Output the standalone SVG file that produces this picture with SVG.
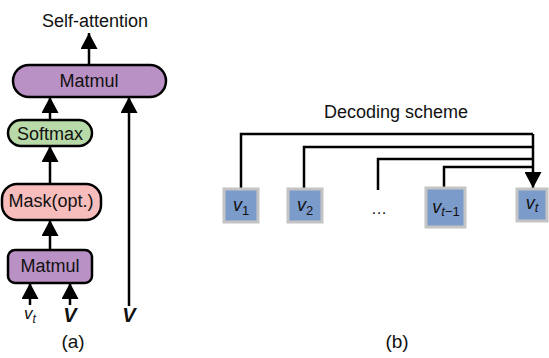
<svg xmlns="http://www.w3.org/2000/svg" width="549" height="358" viewBox="0 0 549 358">
<defs>
<marker id="ah" markerWidth="18" markerHeight="17" refX="16" refY="8.5" orient="auto" markerUnits="userSpaceOnUse">
<path d="M0,0 L16,8.5 L0,17 Z" fill="#000"/>
</marker>
<style>
text{font-family:"Liberation Sans",Arial,sans-serif;fill:#111}
.lbl{font-size:18px;text-anchor:middle}
.op{stroke:#000;stroke-width:2.5}
.mm{fill:#b991c4}
.sm{fill:#b8d9a8}
.mk{fill:#f7bcbc}
.ln{stroke:#000;stroke-width:2.5;fill:none}
.bx{fill:#7b9bcb;stroke:#c4c4c4;stroke-width:3}
.v{font-style:italic;font-size:18px;text-anchor:middle}
.sub{font-size:13px;font-style:italic}
.subn{font-size:13px;font-style:normal}
.cap{font-size:19px;text-anchor:middle}
</style>
</defs>
<g id="connectors">
<line class="ln" x1="89" y1="65" x2="89" y2="33" marker-end="url(#ah)"/>
<line class="ln" x1="50" y1="120" x2="50" y2="97" marker-end="url(#ah)"/>
<line class="ln" x1="129" y1="306" x2="129" y2="97" marker-end="url(#ah)"/>
<line class="ln" x1="50" y1="184" x2="50" y2="146" marker-end="url(#ah)"/>
<line class="ln" x1="50" y1="250" x2="50" y2="220" marker-end="url(#ah)"/>
<line class="ln" x1="30" y1="305" x2="30" y2="283" marker-end="url(#ah)"/>
<line class="ln" x1="70" y1="305" x2="70" y2="283" marker-end="url(#ah)"/>
<polyline class="ln" points="241,189 241,134 533,134"/>
<polyline class="ln" points="304,189 304,147 533,147"/>
<polyline class="ln" points="378,190 378,159 533,159"/>
<polyline class="ln" points="444,188 444,167 533,167"/>
<line class="ln" x1="533" y1="134" x2="533" y2="188" marker-end="url(#ah)"/>
</g>
<g id="title-a"><text class="lbl" x="95" y="27">Self-attention</text></g>
<g id="matmul-top">
<rect class="op mm" x="13" y="65" width="153" height="32" rx="16"/>
<text class="lbl" x="89" y="87">Matmul</text>
</g>
<g id="softmax">
<rect class="op sm" x="8" y="120" width="84" height="26" rx="13"/>
<text class="lbl" x="50" y="140">Softmax</text>
</g>
<g id="mask">
<rect class="op mk" x="2" y="184" width="99" height="36" rx="15"/>
<text class="lbl" x="51" y="207">Mask(opt.)</text>
</g>
<g id="matmul-bottom">
<rect class="op mm" x="8" y="250" width="84" height="33" rx="7"/>
<text class="lbl" x="50" y="272">Matmul</text>
</g>
<g id="inputs-a">
<text class="v" x="30" y="319" style="font-size:17px">v<tspan class="sub" dy="4" style="font-size:12px">t</tspan></text>
<text class="v" x="70" y="322" style="font-weight:bold;font-size:20px">V</text>
<text class="v" x="129" y="322" style="font-weight:bold;font-size:20px">V</text>
</g>
<g id="caption-a"><text class="cap" x="73" y="348">(a)</text></g>
<g id="title-b"><text x="396" y="118" style="font-size:18px;text-anchor:middle">Decoding scheme</text></g>
<g id="v1">
<rect class="bx" x="224" y="189" width="34" height="33"/>
<text class="v" x="241" y="211">v<tspan class="subn" dy="4">1</tspan></text>
</g>
<g id="v2">
<rect class="bx" x="288" y="189" width="34" height="33"/>
<text class="v" x="305" y="211">v<tspan class="subn" dy="4">2</tspan></text>
</g>
<g id="dots"><text x="379" y="214" style="font-size:16px;text-anchor:middle">…</text></g>
<g id="vt-1">
<rect class="bx" x="426" y="188" width="39" height="39"/>
<text class="v" x="446" y="213">v<tspan class="sub" dy="3">t</tspan><tspan class="subn">−1</tspan></text>
</g>
<g id="vt">
<rect class="bx" x="517" y="189" width="30" height="32"/>
<text class="v" x="532" y="209">v<tspan class="sub" dy="3">t</tspan></text>
</g>
<g id="caption-b"><text class="cap" x="397" y="348">(b)</text></g>
</svg>
